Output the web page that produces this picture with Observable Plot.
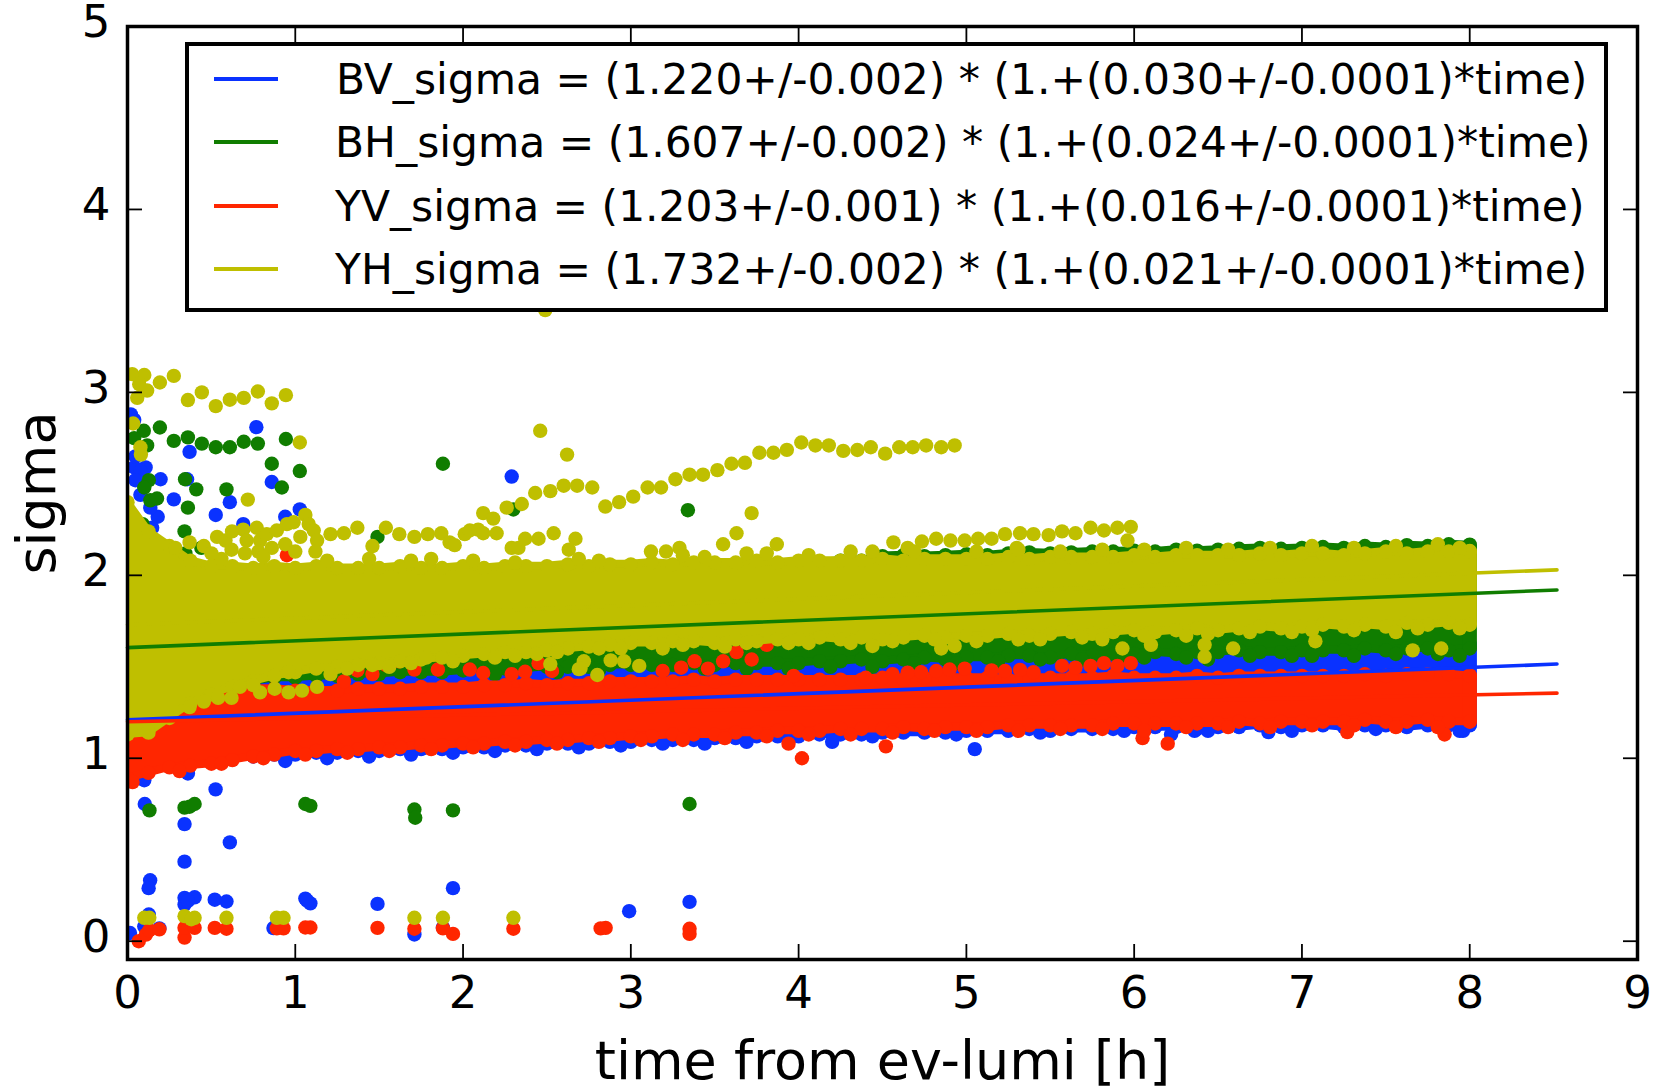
<!DOCTYPE html>
<html><head><meta charset="utf-8">
<script src="https://cdn.jsdelivr.net/npm/d3@7"></script>
<script src="https://cdn.jsdelivr.net/npm/@observablehq/plot@0.6"></script>
<style>
html,body{margin:0;padding:0;background:#fff}
#wrap{position:relative;width:1653px;height:1088px;font-family:"DejaVu Sans",sans-serif}
#legend{position:absolute;left:185px;top:42px;width:1415px;height:262px;background:#fff;border:4px solid #000;box-sizing:content-box;color:#000}
.row{position:absolute;left:0;right:0;height:64px}
.sw{position:absolute;left:25px;width:64px;height:4px;top:30px}
.tx{position:absolute;top:1px;line-height:64px;font-size:42.4px;white-space:pre}
</style></head><body><div id="wrap"><div id="plot"></div><div id="legend"></div></div>
<script>
const times = [0,.125,.25,.375,.5,.625,.75,.875,1,1.125,1.25,1.375,1.5,1.625,1.75,1.875,2,2.125,2.25,2.375,2.5,2.625,2.75,2.875,3,3.125,3.25,3.375,3.5,3.625,3.75,3.875,4,4.125,4.25,4.375,4.5,4.625,4.75,4.875,5,5.125,5.25,5.375,5.5,5.625,5.75,5.875,6,6.125,6.25,6.375,6.5,6.625,6.75,6.875,7,7.125,7.25,7.375,7.5,7.625,7.75,7.875,8];

const blueHi = [2.30,2.20,2.10,2.00,1.90,1.80,1.70,1.60,1.55, 1.46,1.46,1.47,1.47,1.47,1.47,1.48,1.48, 1.48,1.48,1.49,1.49,1.49,1.49,1.50,1.50, 1.50,1.51,1.51,1.51,1.52,1.52,1.52,1.53, 1.53,1.53,1.54,1.54,1.54,1.55,1.55,1.55, 1.56,1.56,1.56,1.57,1.57,1.57,1.58,1.58, 1.58,1.59,1.59,1.59,1.60,1.60,1.60,1.60, 1.61,1.61,1.61,1.62,1.61,1.62,1.62,1.62];
const blueLo = [0.95,0.95,0.97,0.98,0.99,1.00,1.01,1.02,1.02, 1.03,1.03,1.04,1.04,1.05,1.05,1.05,1.06, 1.06,1.07,1.07,1.08,1.08,1.08,1.09,1.09, 1.10,1.10,1.10,1.11,1.11,1.12,1.12,1.12, 1.13,1.13,1.13,1.14,1.14,1.14,1.14,1.15, 1.15,1.15,1.16,1.15,1.16,1.16,1.16,1.17, 1.17,1.17,1.16,1.17,1.17,1.18,1.17,1.18, 1.18,1.17,1.18,1.18,1.17,1.18,1.18,1.18];
const greenHi = [2.25,2.15,2.08,2.03,2.02,2.02,2.02,2.02,2.02, 2.02,2.02,2.02,2.03,2.02,2.03,2.03,2.03, 2.03,2.03,2.04,2.03,2.04,2.04,2.04,2.04, 2.05,2.04,2.05,2.05,2.06,2.05,2.06,2.07, 2.07,2.08,2.08,2.105,2.11,2.105,2.11,2.115, 2.11,2.12,2.125,2.12,2.125,2.13,2.13,2.135, 2.13,2.14,2.135,2.14,2.145,2.15,2.145,2.15, 2.155,2.15,2.16,2.155,2.165,2.16,2.17,2.165];
const greenLo = [1.25,1.25,1.28,1.32,1.36,1.40,1.42,1.44,1.44, 1.45,1.45,1.46,1.46,1.47,1.47,1.47,1.48, 1.49,1.49,1.49,1.50,1.50,1.50,1.51,1.51, 1.51,1.51,1.52,1.51,1.52,1.52,1.52,1.52, 1.53,1.53,1.54,1.53,1.54,1.55,1.54,1.55, 1.55,1.56,1.56,1.55,1.57,1.56,1.57,1.57, 1.58,1.57,1.58,1.58,1.59,1.58,1.58,1.59, 1.59,1.59,1.60,1.59,1.60,1.60,1.59,1.60];
const redHi = [1.50,1.50,1.48,1.45,1.42,1.40,1.38,1.38,1.37, 1.37,1.37,1.38,1.38,1.38,1.39,1.39,1.39, 1.40,1.40,1.41,1.40,1.41,1.41,1.42,1.42, 1.42,1.42,1.43,1.42,1.43,1.43,1.43,1.43, 1.43,1.43,1.43,1.44,1.43,1.44,1.44,1.44, 1.44,1.43,1.44,1.44,1.44,1.44,1.45,1.44, 1.44,1.44,1.45,1.44,1.45,1.45,1.45,1.45, 1.45,1.45,1.46,1.45,1.46,1.46,1.46,1.45];
const redLo = [0.89,0.92,0.95,0.96,0.97,0.99,1.01,1.02,1.04, 1.04,1.05,1.05,1.06,1.06,1.07,1.07,1.08, 1.08,1.09,1.09,1.10,1.10,1.11,1.11,1.12, 1.12,1.13,1.13,1.13,1.14,1.14,1.15,1.15, 1.15,1.16,1.16,1.16,1.17,1.16,1.17,1.17, 1.17,1.18,1.18,1.18,1.18,1.18,1.19,1.19, 1.19,1.19,1.19,1.19,1.20,1.19,1.20,1.20, 1.20,1.20,1.21,1.20,1.20,1.21,1.20,1.20];
const yellowHi = [2.40,2.24,2.16,2.08,2.05,2.05,2.04,2.05,2.04, 2.05,2.04,2.04,2.04,2.05,2.04,2.04,2.05, 2.04,2.05,2.05,2.05,2.06,2.05,2.06,2.06, 2.07,2.06,2.07,2.07,2.07,2.08,2.07,2.08, 2.08,2.08,2.08,2.09,2.08,2.09,2.09,2.09, 2.09,2.10,2.09,2.10,2.10,2.10,2.10,2.11, 2.10,2.11,2.11,2.11,2.11,2.12,2.11,2.12, 2.12,2.11,2.12,2.13,2.12,2.13,2.13,2.13];
const yellowLo = [1.13,1.14,1.22,1.30,1.35,1.39,1.42,1.45,1.47, 1.49,1.50,1.51,1.52,1.53,1.54,1.55,1.56, 1.57,1.58,1.58,1.59,1.60,1.61,1.62,1.63, 1.63,1.64,1.64,1.63,1.65,1.64,1.65,1.65, 1.66,1.65,1.66,1.65,1.66,1.67,1.66,1.67, 1.67,1.68,1.67,1.68,1.69,1.68,1.69,1.70, 1.69,1.70,1.71,1.70,1.71,1.72,1.71,1.72, 1.73,1.72,1.73,1.72,1.74,1.73,1.74,1.73];

const blueOut = [[.768,2.81],[.37,2.675],[.197,2.525],[.276,2.415],[.61,2.40],[.526,2.33],[.86,2.51],[1.027,2.36],[.94,2.32],[.69,2.28],[.18,2.32],[.355,2.525],[2.29,2.54],[.04,2.85],[.02,2.88],[.04,2.59],[.108,2.59],[.077,2.57],[.047,2.52],[.077,2.44],[.136,2.37],[.047,2.65],[.147,2.26],
 [.103,.75],[.525,.83],[.34,.64],[.61,.54],[.34,.435],[.135,.333],[.126,.29],[1.94,.29],[.36,.917],[.1,.88],[1.49,.204],[2.99,.164],[3.35,.215],[.34,.237],[.34,.2],[.4,.24],[.36,.22],[.52,.227],[.59,.217],[1.06,.233],[1.09,.207],[1.07,.222],[.127,.146],[.19,.07],[.1,.08],[.015,.045],[1.71,.037],[1.88,.075],[.87,.072],
 [6.8,1.143],[7.96,1.15],[6.22,1.13],[6.36,1.15],[5.05,1.05],[4.2,1.09],
 [.94,.985],[1.19,1.0],[1.44,1.01],[1.69,1.02],[1.94,1.03],[2.19,1.04],[2.44,1.05],[2.69,1.06],[2.94,1.07],[3.19,1.08],[3.44,1.08],[3.69,1.09],[3.94,1.10],[4.44,1.12],[4.94,1.13],[5.44,1.14],[5.94,1.15],[6.44,1.15],[6.94,1.15],[7.44,1.16],[7.94,1.15]];
const greenOut = [[.193,2.808],[.276,2.735],[.36,2.754],[.443,2.72],[.526,2.70],[.61,2.70],[.693,2.73],[.777,2.72],[.944,2.745],[.86,2.61],[1.027,2.57],[.92,2.48],[.343,2.525],[.41,2.47],[.59,2.47],[.36,2.37],[.34,2.24],[1.88,2.61],[1.49,2.21],[2.3,2.36],[.097,2.79],[.117,2.71],[.04,2.75],[.127,2.52],[.136,2.41],[.176,2.42],[.1,2.48],[.09,2.28],[.345,2.12],[.44,2.15],[.02,2.24],[3.34,2.356],
 [.131,.715],[.34,.73],[.37,.735],[.4,.75],[1.06,.75],[1.09,.74],[1.71,.72],[1.715,.675],[1.94,.715],[3.35,.75],
 [2.19,1.46],[2.56,1.47],[2.81,1.48],[3.19,1.48],[3.44,1.49],[3.69,1.49],[3.94,1.49],[4.19,1.50],[4.44,1.50],[4.69,1.52],[4.94,1.52],[5.19,1.53],[5.44,1.54],[5.69,1.54],[5.94,1.55],[6.06,1.55],[6.31,1.55],[6.44,1.54],[6.69,1.56],[6.94,1.56],[7.06,1.56],[7.31,1.56],[7.56,1.57],[7.81,1.57],[7.94,1.56]];
const redOut = [[.067,0],[.11,.036],[.13,.06],[.19,.065],[.34,.02],[.34,.073],[.4,.073],[.52,.073],[.59,.068],[.89,.07],[.93,.07],[1.06,.075],[1.09,.075],[1.49,.073],[1.71,.068],[1.88,.07],[1.94,.04],[2.3,.068],[2.82,.07],[2.85,.073],[3.35,.068],[3.35,.04],
 [.03,.87],[3.94,1.08],[4.02,1.0],[4.52,1.065],[6.2,1.08],[6.05,1.11],[7.27,1.143],[7.85,1.13],
 [2.29,1.46],[2.37,1.473],[2.45,1.52],[2.53,1.477],[3.19,1.477],[3.3,1.495],[3.38,1.53],[3.46,1.49],[3.55,1.53],[3.63,1.58],[3.72,1.54],[3.81,1.62],[4.65,1.468],[4.73,1.47],[4.82,1.477],[4.9,1.485],[4.99,1.49],[5.15,1.48],[5.23,1.477],[5.32,1.483],[5.4,1.47],[5.57,1.505],[5.65,1.495],[5.74,1.505],[5.82,1.52],[5.9,1.505],[5.98,1.52],[4.56,1.46],[4.4,1.44],[3.97,1.45],
 [1.54,1.51],[1.62,1.53],[1.71,1.485],[2.04,1.485],[2.12,1.466],[1.37,1.48],[1.46,1.46],[1.29,1.42],[1.85,1.485],[.53,2.06],[.95,2.11],[.19,2.07],
 [.31,.93],[.56,.97],[.81,1.0],[1.06,1.02],[1.31,1.03],[1.56,1.04],[1.81,1.05],[2.06,1.06],[2.31,1.07],[2.56,1.08],[2.81,1.09],[3.06,1.10],[3.31,1.10],[3.56,1.11],[3.81,1.12],[4.06,1.13],[4.31,1.13],[4.56,1.14],[4.81,1.15],[5.06,1.15],[5.31,1.15],[5.56,1.16],[5.81,1.16],[6.06,1.15],[6.31,1.17],[6.56,1.17],[6.81,1.17],[7.06,1.18],[7.31,1.18],[7.56,1.17],[7.81,1.17]];
const yellowOut = [[.193,3.054],[.276,3.09],[.36,2.958],[.443,3.0],[.526,2.925],[.61,2.96],[.693,2.97],[.777,3.005],[.86,2.94],[.944,2.985],[.1,3.095],[.058,2.97],[.117,3.01],[.028,3.1],[.07,3.045],
 [1.027,2.726],[.717,2.414],[.077,2.70],[.08,2.66],[.034,2.83],
 [.285,2.15],[.37,2.18],[.455,2.16],[.534,2.21],[.584,2.19],[.623,2.24],[.69,2.25],[.77,2.26],[.71,2.19],[.79,2.19],[.83,2.225],[.89,2.245],[.95,2.28],[.99,2.29],[1.06,2.33],[1.08,2.28],[1.03,2.21],[1.11,2.245],[1.13,2.19],[1.21,2.225],[1.29,2.23],[1.37,2.26],[1.46,2.16],[1.54,2.26],[1.62,2.225],[1.71,2.21],[1.79,2.225],[1.87,2.23],[1.92,2.18],[1.95,2.165],[2.01,2.225],[2.04,2.245],[2.09,2.25],[2.12,2.23],[2.2,2.23],[2.12,2.34],[2.18,2.31],[2.26,2.37],[2.35,2.39],[2.43,2.45],[2.52,2.46],[2.6,2.49],[2.68,2.49],[2.77,2.48],[2.46,2.79],[2.62,2.66],[2.29,2.15],[2.33,2.15],[2.37,2.2],[2.45,2.2],[2.54,2.23],[2.67,2.2],[2.63,2.14],[1.12,2.13],
 [.5,2.12],[.62,2.14],[.7,2.12],[.78,2.13],[.86,2.15],[.94,2.17],[1.0,2.13],
 [2.848,2.376],[2.93,2.40],[3.014,2.43],[3.1,2.48],[3.18,2.48],[3.266,2.525],[3.35,2.55],[3.43,2.55],[3.516,2.575],[3.6,2.61],[3.68,2.615],[3.766,2.67],[3.85,2.67],[3.93,2.686],[4.016,2.726],[4.1,2.71],[4.18,2.71],[4.266,2.68],[4.35,2.685],[4.43,2.70],[4.516,2.665],[4.6,2.70],[4.68,2.70],[4.76,2.71],[4.85,2.70],[4.93,2.71],
 [3.72,2.34],[3.63,2.23],[3.55,2.17],[3.29,2.15],[3.12,2.13],[3.21,2.13],[3.87,2.17],
 [4.565,2.18],[4.65,2.15],[4.735,2.185],[4.82,2.2],[4.905,2.19],[4.99,2.19],[5.07,2.2],[5.15,2.2],[5.23,2.225],[5.32,2.23],[5.4,2.225],[5.49,2.22],[5.57,2.24],[5.65,2.23],[5.74,2.26],[5.82,2.245],[5.9,2.26],[5.98,2.265],[5.96,2.19],[5.3,2.15],
 [2.49,3.45],
 [2.52,1.515],[2.69,1.487],[2.72,1.53],[2.8,1.455],[2.88,1.535],[2.96,1.53],[3.05,1.505],[4.44,1.614],[4.85,1.6],[4.93,1.614],[1.21,1.46],[1.46,1.51],[1.78,1.55],[2.7,1.49],[1.13,1.39],[1.04,1.37],[.96,1.36],[.877,1.38],[.79,1.36],[.75,1.40],[.62,1.33],[.54,1.33],[.455,1.31],[.37,1.28],[.67,1.39],[.96,1.47],
 [6.42,1.554],[6.59,1.6],[6.42,1.62],[7.08,1.64],[7.66,1.59],[7.83,1.6],[5.93,1.6],[6.1,1.62],
 [.1,.128],[.13,.128],[.34,.137],[.4,.128],[.38,.12],[.59,.128],[.89,.128],[.93,.128],[1.71,.128],[1.88,.128],[2.3,.128],
 [1.31,1.49],[1.56,1.50],[1.69,1.52],[1.94,1.53],[2.19,1.55],[2.31,1.56],[2.44,1.57],[2.56,1.58],[2.81,1.60],[2.94,1.60],[3.19,1.60],[3.31,1.62],[3.56,1.61],[3.69,1.63],[3.94,1.63],[4.06,1.63],[4.31,1.63],[4.56,1.64],[4.81,1.65],[5.06,1.64],[5.31,1.65],[5.44,1.65],[5.69,1.66],[5.81,1.65],[6.06,1.67],[6.31,1.67],[6.44,1.68],[6.69,1.69],[6.94,1.69],[7.06,1.70],[7.31,1.70],[7.56,1.69],[7.69,1.71],[7.94,1.71],
 [.56,2.09],[.81,2.10],[1.19,2.08],[1.44,2.09],[1.69,2.08],[1.81,2.09],[2.06,2.08],[2.31,2.07],[2.69,2.09],[2.81,2.08],[3.31,2.11],[3.44,2.10],[3.69,2.12],[3.81,2.12],[4.06,2.11],[4.31,2.13],[4.44,2.13],[4.69,2.13],[5.06,2.13],[5.31,2.14],[5.56,2.13],[5.81,2.14],[6.06,2.14],[6.31,2.15],[6.56,2.14],[6.81,2.15],[7.06,2.16],[7.31,2.15],[7.56,2.16],[7.81,2.17],[7.94,2.15]];

const fitT = [0, 8.52];
const blueFit = [1.21, 1.515];
const greenFit = [1.605, 1.92];
const redFit = [1.2, 1.356];
const yellowFit = [1.73, 2.03];

const legendLabels = [
 "BV_sigma = (1.220+/-0.002) * (1.+(0.030+/-0.0001)*time)",
 "BH_sigma = (1.607+/-0.002) * (1.+(0.024+/-0.0001)*time)",
 "YV_sigma = (1.203+/-0.001) * (1.+(0.016+/-0.0001)*time)",
 "YH_sigma = (1.732+/-0.002) * (1.+(0.021+/-0.0001)*time)"
];
const xLabel = "time from ev-lumi [h]";
const yLabel = "sigma";
const colors = ["#0a32ff","#107d00","#ff2600","#bfbf00"];
const xTicks = [0,1,2,3,4,5,6,7,8,9];
const yTicks = [0,1,2,3,4,5];

const groups = [
 {c:colors[0],hi:blueHi,lo:blueLo,out:blueOut,fit:blueFit},
 {c:colors[1],hi:greenHi,lo:greenLo,out:greenOut,fit:greenFit},
 {c:colors[2],hi:redHi,lo:redLo,out:redOut,fit:redFit},
 {c:colors[3],hi:yellowHi,lo:yellowLo,out:yellowOut,fit:yellowFit}
];
const R = 7.2;
const marks = [];
for (const g of groups) {
  const rows = times.map((t,i)=>({t,hi:g.hi[i],lo:g.lo[i]}));
  marks.push(
    Plot.areaY(rows,{x:"t",y1:"lo",y2:"hi",fill:g.c,stroke:g.c,strokeWidth:8,clip:"frame"}),
    Plot.ruleX([rows[rows.length-1]],{x:"t",y1:"lo",y2:"hi",stroke:g.c,strokeWidth:R*2,strokeLinecap:"round"}),
    Plot.dot(rows,{x:"t",y:"hi",r:R,fill:g.c,clip:"frame"}),
    Plot.dot(rows,{x:"t",y:"lo",r:R,fill:g.c,clip:"frame"}),
    Plot.dot(g.out,{x:d=>d[0],y:d=>d[1],r:R,fill:g.c,clip:"frame"})
  );
}
for (const g of groups) {
  marks.push(Plot.line(fitT.map((t,i)=>({t,v:g.fit[i]})),{x:"t",y:"v",stroke:g.c,strokeWidth:3.6}));
}
const tickStyle = {stroke:"#000",strokeWidth:1.8,tickSize:-15,text:null,label:null};
marks.push(
  Plot.axisX(xTicks,{anchor:"bottom",...tickStyle}),
  Plot.axisX(xTicks,{anchor:"top",...tickStyle}),
  Plot.axisY(yTicks,{anchor:"left",...tickStyle}),
  Plot.axisY(yTicks,{anchor:"right",...tickStyle}),
  Plot.axisX(xTicks,{anchor:"bottom",tickSize:0,tickPadding:17,fontSize:45,tickFormat:"d",label:null}),
  Plot.axisY(yTicks,{anchor:"left",tickSize:0,tickPadding:17,fontSize:45,dy:-4,tickFormat:"d",label:null}),
  Plot.text([xLabel],{frameAnchor:"bottom",dy:102,fontSize:54,lineAnchor:"middle",fill:"#000"}),
  Plot.text([yLabel],{frameAnchor:"left",dx:-90,rotate:-90,fontSize:54,textAnchor:"middle",lineAnchor:"middle",fill:"#000"}),
  Plot.frame({stroke:"#000",strokeWidth:3.5})
);
const chart = Plot.plot({
  width:1653,height:1088,
  marginLeft:127,marginRight:16,marginTop:26,marginBottom:129,
  x:{domain:[0,9],label:null},
  y:{domain:[-0.1,5],label:null},
  style:{fontFamily:"DejaVu Sans",background:"#fff",color:"#000"},
  marks
});
document.getElementById("plot").appendChild(chart);

const legend = document.getElementById("legend");
const lefts = [147,146,146,146];
legendLabels.forEach((s,i)=>{
  const r=document.createElement("div");r.className="row";r.style.top=(i*63.4+1)+"px";
  const sw=document.createElement("div");sw.className="sw";sw.style.background=colors[i];r.appendChild(sw);
  const t=document.createElement("div");t.className="tx";t.style.left=lefts[i]+"px";t.textContent=s;r.appendChild(t);
  legend.appendChild(r);
});
</script></body></html>
